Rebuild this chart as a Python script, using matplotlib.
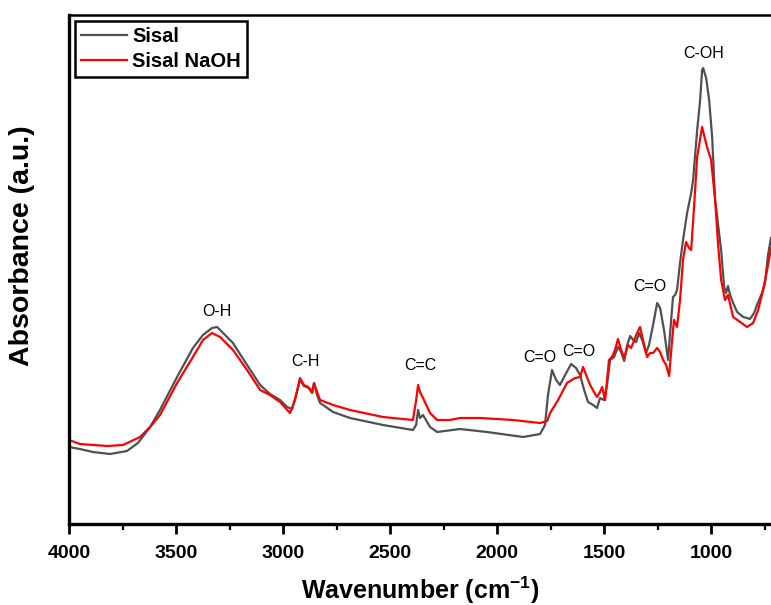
#!/usr/bin/env python3

import matplotlib
matplotlib.use('Agg')
import matplotlib.pyplot as plt
from matplotlib.ticker import MultipleLocator

plt.rcParams['font.family'] = ['Liberation Sans', 'DejaVu Sans']
plt.rcParams['mathtext.fontset'] = 'custom'
plt.rcParams['mathtext.rm'] = 'Liberation Sans'
plt.rcParams['mathtext.bf'] = 'Liberation Sans:bold'

# FTIR spectra (wavenumber in cm-1, absorbance in a.u.)
SISAL_WN = [
    4000, 3949, 3888, 3808, 3729, 3678, 3621, 3575, 3495, 3421, 3374, 3332,
    3308, 3294, 3234, 3168, 3107, 3061, 3014, 2981, 2958, 2935, 2921, 2902,
    2878, 2864, 2855, 2841, 2827, 2766, 2687, 2533, 2393, 2378, 2369, 2360,
    2346, 2313, 2280, 2173, 2047, 1878, 1799, 1776, 1762, 1743, 1724, 1706,
    1682, 1654, 1631, 1612, 1593, 1575, 1551, 1533, 1519, 1500, 1486, 1472,
    1453, 1435, 1420, 1406, 1392, 1378, 1364, 1350, 1336, 1322, 1304, 1290,
    1271, 1252, 1238, 1220, 1201, 1192, 1178, 1168, 1159, 1145, 1131, 1112,
    1093, 1084, 1065, 1051, 1042, 1037, 1023, 1009, 995, 981, 953, 939,
    930, 921, 911, 897, 878, 850, 832, 818, 799, 780, 762, 748, 734, 720,
]
SISAL_ABS = [
    0.77, 0.75, 0.72, 0.70, 0.73, 0.81, 0.97, 1.14, 1.47, 1.76, 1.89, 1.96,
    1.97, 1.94, 1.81, 1.59, 1.39, 1.30, 1.24, 1.17, 1.15, 1.32, 1.44, 1.38,
    1.36, 1.32, 1.41, 1.29, 1.21, 1.12, 1.06, 0.99, 0.94, 0.99, 1.14, 1.06,
    1.09, 0.97, 0.92, 0.95, 0.92, 0.87, 0.90, 0.99, 1.29, 1.54, 1.44, 1.39,
    1.49, 1.60, 1.56, 1.49, 1.34, 1.22, 1.19, 1.16, 1.26, 1.24, 1.39, 1.64,
    1.67, 1.77, 1.72, 1.63, 1.79, 1.88, 1.84, 1.82, 1.91, 1.84, 1.71, 1.79,
    1.99, 2.21, 2.16, 1.94, 1.64, 1.89, 2.27, 2.29, 2.34, 2.61, 2.84, 3.11,
    3.31, 3.44, 3.94, 4.24, 4.54, 4.56, 4.46, 4.24, 3.87, 3.24, 2.74, 2.37,
    2.31, 2.38, 2.29, 2.21, 2.12, 2.07, 2.06, 2.05, 2.11, 2.22, 2.31, 2.41,
    2.69, 2.86,
]

NAOH_WN = [
    4000, 3949, 3822, 3748, 3668, 3621, 3575, 3495, 3421, 3374, 3332, 3294,
    3234, 3168, 3107, 3061, 3014, 2967, 2944, 2921, 2902, 2883, 2864, 2855,
    2841, 2827, 2766, 2687, 2533, 2393, 2378, 2369, 2360, 2346, 2313, 2280,
    2220, 2173, 2079, 1925, 1799, 1766, 1752, 1715, 1673, 1636, 1612, 1598,
    1584, 1565, 1547, 1533, 1519, 1509, 1495, 1477, 1463, 1449, 1435, 1420,
    1406, 1388, 1374, 1364, 1350, 1332, 1318, 1299, 1285, 1271, 1252, 1238,
    1224, 1210, 1196, 1182, 1173, 1159, 1145, 1131, 1117, 1103, 1093, 1079,
    1065, 1042, 1019, 1000, 981, 967, 953, 935, 921, 897, 864, 832, 804, 780,
    757, 738, 720,
]
NAOH_ABS = [
    0.84, 0.80, 0.78, 0.79, 0.87, 0.97, 1.09, 1.41, 1.67, 1.84, 1.91, 1.87,
    1.74, 1.54, 1.34, 1.29, 1.22, 1.11, 1.24, 1.46, 1.39, 1.37, 1.31, 1.41,
    1.32, 1.24, 1.19, 1.14, 1.07, 1.04, 1.24, 1.39, 1.32, 1.26, 1.11, 1.04,
    1.04, 1.06, 1.06, 1.04, 1.01, 1.03, 1.11, 1.24, 1.41, 1.46, 1.47, 1.57,
    1.49, 1.39, 1.32, 1.27, 1.32, 1.37, 1.24, 1.64, 1.67, 1.74, 1.85, 1.74,
    1.66, 1.79, 1.76, 1.81, 1.89, 1.97, 1.84, 1.67, 1.71, 1.71, 1.76, 1.72,
    1.64, 1.59, 1.48, 1.84, 2.04, 1.97, 2.24, 2.64, 2.82, 2.76, 2.74, 3.19,
    3.67, 3.97, 3.77, 3.64, 3.24, 2.79, 2.44, 2.24, 2.29, 2.07, 2.02, 1.97,
    2.01, 2.14, 2.34, 2.54, 2.76,
]

# band labels: (text, wavenumber, absorbance)
BAND_LABELS = ['O-H', 'C-H', 'C=C', 'C=O', 'C=O', 'C=O', 'C-OH']
BAND_WN = [3308, 2893, 2360, 1799, 1617, 1285, 1037]
BAND_ABS = [2.13, 1.62, 1.58, 1.67, 1.72, 2.37, 4.71]


def main():
    fig = plt.figure(figsize=(7.71, 6.05), dpi=100)
    ax = fig.add_axes([69 / 771, 81 / 605, 702 / 771, 509 / 605])

    ax.plot(SISAL_WN, SISAL_ABS, color='#505050', lw=1.6, label='Sisal')
    ax.plot(NAOH_WN, NAOH_ABS, color='#ff0000', lw=1.6, label='Sisal NaOH')

    for text, wn, ab in zip(BAND_LABELS, BAND_WN, BAND_ABS):
        ax.text(wn, ab, text, ha='center', va='center', fontsize=11.5)

    ax.set_xlim(4000, 720)
    ax.set_ylim(0, 5.09)
    ax.xaxis.set_major_locator(MultipleLocator(500))
    ax.xaxis.set_minor_locator(MultipleLocator(250))
    ax.tick_params(axis='x', which='major', direction='out', length=7,
                   width=2, labelsize=14, pad=8)
    ax.tick_params(axis='x', which='minor', direction='out', length=4,
                   width=1.6)
    for lab in ax.get_xticklabels():
        lab.set_fontweight('bold')
    ax.set_yticks([])

    ax.spines['right'].set_visible(False)
    ax.spines['left'].set_linewidth(2.4)
    ax.spines['bottom'].set_linewidth(2.4)
    ax.spines['top'].set_linewidth(1.8)

    ax.set_xlabel('Wavenumber (cm$^{\\mathbf{-1}}$)', fontsize=18,
                  fontweight='bold', labelpad=9)
    ax.set_ylabel('Absorbance (a.u.)', fontsize=20.5, fontweight='bold')
    ax.yaxis.set_label_coords(-0.048, 0.546)

    leg = ax.legend(loc='upper left', bbox_to_anchor=(0.0, 1.0),
                    prop={'weight': 'bold', 'size': 14.5}, fancybox=False,
                    framealpha=1, edgecolor='black', handlelength=2.3,
                    handletextpad=0.25, borderpad=0.3, labelspacing=0.3,
                    borderaxespad=0.3)
    leg.get_frame().set_linewidth(1.8)

    fig.savefig('out.png', dpi=100)


if __name__ == '__main__':
    main()
